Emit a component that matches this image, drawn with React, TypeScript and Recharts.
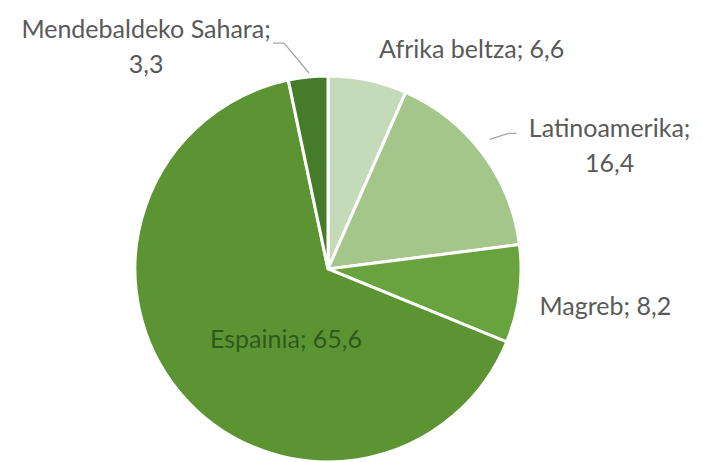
import React from 'react';
import { PieChart, Pie, Cell } from 'recharts';

const categories = ['Afrika beltza', 'Latinoamerika', 'Magreb', 'Espainia', 'Mendebaldeko Sahara'];
const values = [6.6, 16.4, 8.2, 65.6, 3.3];
const valueLabels = ['6,6', '16,4', '8,2', '65,6', '3,3'];

const colors = ['#c5dab8', '#a4c68b', '#69a33e', '#5c9434', '#457b29'];

// label layout: offset from the slice's outer edge point (or center when inside)
const labelLayout = [
  { mode: 'edge', dx: 104, dy: -32, lines: 1 },
  { mode: 'edge', dx: 127, dy: -8, lines: 2 },
  { mode: 'edge', dx: 86, dy: 11, lines: 1 },
  { mode: 'center', dx: -42, dy: 69, lines: 1 },
  { mode: 'edge', dx: -162, dy: -31, lines: 2 },
];

const data = categories.map((name, i) => ({ name, value: values[i], label: valueLabels[i] }));

const RADIAN = Math.PI / 180;
const FONT = 'Lato, "Open Sans", sans-serif';
const FS = 25;

const renderLabel = (props: any) => {
  const { cx, cy, midAngle, outerRadius, index } = props;
  const lay = labelLayout[index];
  const ex = cx + outerRadius * Math.cos(-midAngle * RADIAN);
  const ey = cy + outerRadius * Math.sin(-midAngle * RADIAN);
  const bx = lay.mode === 'edge' ? ex : cx;
  const by = lay.mode === 'edge' ? ey : cy;
  const x = bx + lay.dx;
  const y = by + lay.dy;
  const d = data[index];
  const fill = index === 3 ? '#2f5a1c' : '#595959';
  const elems: any[] = [];
  if (lay.lines === 1) {
    elems.push(
      <text key="t" x={x} y={y} textAnchor="middle" dominantBaseline="central" fill={fill} fontSize={FS} fontFamily={FONT}>
        {`${d.name}; ${d.label}`}
      </text>
    );
  } else {
    elems.push(
      <text key="t" x={x} y={y} textAnchor="middle" fill={fill} fontSize={FS} fontFamily={FONT}>
        <tspan x={x} dy={-8}>{`${d.name};`}</tspan>
        <tspan x={x} dy={35}>{d.label}</tspan>
      </text>
    );
  }
  if (index === 4) {
    elems.push(
      <polyline key="l" points={`${ex + 1},${ey - 4} ${ex - 24},${ey - 34} ${ex - 35},${ey - 34}`} fill="none" stroke="#a6a6a6" strokeWidth={1.3} />
    );
  }
  if (index === 1) {
    elems.push(
      <polyline key="l" points={`${ex + 7},${ey - 14} ${ex + 26},${ey - 20} ${ex + 34},${ey - 20}`} fill="none" stroke="#a6a6a6" strokeWidth={1.3} />
    );
  }
  return <g>{elems}</g>;
};

export default function App() {
  return (
    <div style={{ position: 'absolute', left: 0, top: 0, width: 702, height: 462, background: '#fff' }}>
      <PieChart width={702} height={462} margin={{ top: 0, right: 0, bottom: 0, left: 0 }}>
        <Pie
          data={data}
          dataKey="value"
          nameKey="name"
          cx={328}
          cy={269}
          outerRadius={193}
          startAngle={90}
          endAngle={-270}
          stroke="#ffffff"
          strokeWidth={3}
          label={renderLabel}
          labelLine={false}
          isAnimationActive={false}
        >
          {data.map((d, i) => (
            <Cell key={d.name} fill={colors[i]} />
          ))}
        </Pie>
      </PieChart>
    </div>
  );
}
